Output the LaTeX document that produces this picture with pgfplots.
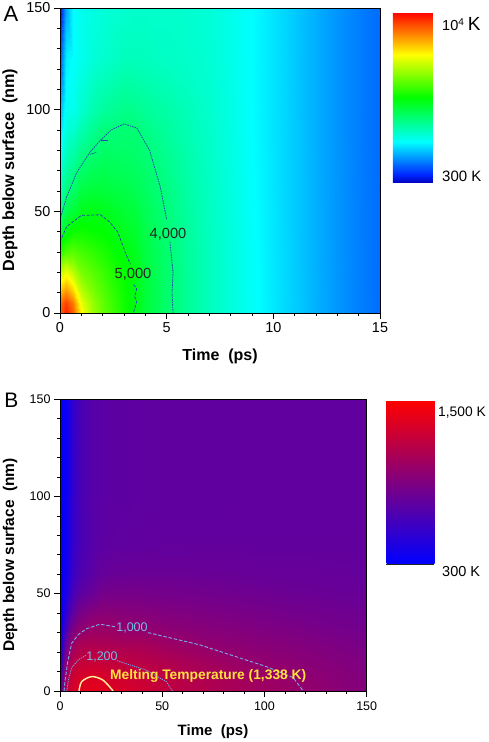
\documentclass[border=0pt]{standalone}
\usepackage{fontspec}
\setmainfont{Liberation Sans}
\usepackage{pgfplots}
\pgfplotsset{compat=1.18}
\definecolor{contA}{RGB}{35,75,170}
\definecolor{contB}{RGB}{120,170,235}
\definecolor{lblB}{RGB}{115,190,235}
\definecolor{meltc}{RGB}{255,238,150}
\definecolor{melttxt}{RGB}{255,225,60}
\newcommand{\fs}[1]{\fontsize{#1}{#1}\selectfont}
\pgfplotsset{
  panel/.style={scale only axis,axis on top,enlargelimits=false,
    tick align=outside,xtick pos=bottom,ytick pos=left,
    major tick length=6pt,minor tick length=3.2pt,
    tick style={black,line width=0.5pt},axis line style={line width=0.6pt},
    /pgf/number format/assume math mode=true,
    ymin=0,ymax=150,ytick={0,50,100,150},minor ytick={10,20,...,140}},
  heat/.style={surf,shader=interp,draw=none,point meta=explicit,mesh/ordering=y varies},
}
\begin{document}
\begin{tikzpicture}[x=1pt,y=1pt]
\path[use as bounding box] (0,0) rectangle (488,742);
% ---------- Panel A
\begin{axis}[panel,at={(60pt,429pt)},anchor=south west,width=320pt,height=305pt,
  xmin=0,xmax=15,xtick={0,5,10,15},minor xtick={1,2,3,4,6,7,8,9,11,12,13,14},
  ticklabel style={font=\fs{14.4}},
  colormap={rbA}{rgb255(0)=(0,0,190) rgb255(5)=(0,40,255) rgb255(24)=(0,255,255) rgb255(50)=(0,255,0) rgb255(75)=(255,255,0) rgb255(100)=(255,0,0)},
  point meta min=300,point meta max=10000,
  colorbar,colorbar/width=40pt,
  colorbar style={at={(parent axis.north east)},anchor=north west,xshift=4.4pt,yshift=-4pt,
    scale only axis,height=171pt,ytick=\empty,axis line style={draw=none},axis on top=false}]
\addplot[heat,mesh/rows=13,mesh/cols=20] table[x=t,y=z,meta=T,row sep=\\]{
t z T\\
0 0 9000\\0 5 8900\\0 10 8300\\0 20 6900\\0 30 5500\\0 40 4500\\0 50 3800\\0 60 3300\\0 75 2800\\0 90 2300\\0 100 2000\\0 125 1200\\0 150 500\\
0.3 0 9700\\0.3 5 9400\\0.3 10 8700\\0.3 20 7400\\0.3 30 5900\\0.3 40 5000\\0.3 50 4400\\0.3 60 3950\\0.3 75 3400\\0.3 90 3000\\0.3 100 2800\\0.3 125 2500\\0.3 150 1900\\
0.6 0 9100\\0.6 5 8800\\0.6 10 8100\\0.6 20 6900\\0.6 30 6000\\0.6 40 5300\\0.6 50 4600\\0.6 60 4150\\0.6 75 3600\\0.6 90 3100\\0.6 100 2800\\0.6 125 2650\\0.6 150 2620\\
1 0 7650\\1 5 7400\\1 10 7000\\1 20 6300\\1 30 5800\\1 40 5300\\1 50 4900\\1 60 4500\\1 75 3950\\1 90 3400\\1 100 3100\\1 125 2800\\1 150 2780\\
1.5 0 6700\\1.5 5 6600\\1.5 10 6400\\1.5 20 6000\\1.5 30 5600\\1.5 40 5200\\1.5 50 4950\\1.5 60 4600\\1.5 75 4150\\1.5 90 3700\\1.5 100 3400\\1.5 125 3000\\1.5 150 2900\\
2 0 6100\\2 5 6050\\2 10 5950\\2 20 5700\\2 30 5400\\2 40 5150\\2 50 4900\\2 60 4600\\2 75 4250\\2 90 3950\\2 100 3600\\2 125 3100\\2 150 3000\\
3 0 5300\\3 5 5280\\3 10 5250\\3 20 5200\\3 30 5050\\3 40 4850\\3 50 4650\\3 60 4450\\3 75 4200\\3 90 4020\\3 100 3800\\3 125 3300\\3 150 3100\\
3.5 0 4990\\3.5 5 5010\\3.5 10 5000\\3.5 20 4950\\3.5 30 4850\\3.5 40 4700\\3.5 50 4550\\3.5 60 4350\\3.5 75 4150\\3.5 90 4000\\3.5 100 3750\\3.5 125 3300\\3.5 150 3150\\
4 0 4600\\4 5 4600\\4 10 4600\\4 20 4560\\4 30 4500\\4 40 4420\\4 50 4320\\4 60 4200\\4 75 4050\\4 90 3850\\4 100 3650\\4 125 3280\\4 150 3150\\
5 0 4080\\5 5 4080\\5 10 4080\\5 20 4070\\5 30 4050\\5 40 4020\\5 50 3950\\5 60 3880\\5 75 3750\\5 90 3600\\5 100 3500\\5 125 3200\\5 150 3150\\
6 0 3650\\6 5 3650\\6 10 3650\\6 20 3640\\6 30 3620\\6 40 3600\\6 50 3570\\6 60 3530\\6 75 3460\\6 90 3380\\6 100 3320\\6 125 3150\\6 150 3100\\
7 0 3300\\7 5 3300\\7 10 3300\\7 20 3290\\7 30 3280\\7 40 3270\\7 50 3250\\7 60 3230\\7 75 3200\\7 90 3160\\7 100 3130\\7 125 3060\\7 150 3020\\
8 0 2980\\8 5 2980\\8 10 2980\\8 20 2975\\8 30 2970\\8 40 2960\\8 50 2950\\8 60 2940\\8 75 2920\\8 90 2900\\8 100 2880\\8 125 2850\\8 150 2830\\
9 0 2700\\9 5 2700\\9 10 2700\\9 20 2690\\9 30 2680\\9 40 2670\\9 50 2660\\9 60 2650\\9 75 2640\\9 90 2630\\9 100 2625\\9 125 2620\\9 150 2620\\
10 0 2440\\10 5 2440\\10 10 2440\\10 20 2435\\10 30 2430\\10 40 2425\\10 50 2420\\10 60 2415\\10 75 2410\\10 90 2405\\10 100 2400\\10 125 2400\\10 150 2400\\
11 0 2200\\11 5 2200\\11 10 2200\\11 20 2195\\11 30 2190\\11 40 2185\\11 50 2180\\11 60 2180\\11 75 2175\\11 90 2175\\11 100 2170\\11 125 2170\\11 150 2170\\
12 0 1960\\12 5 1960\\12 10 1960\\12 20 1955\\12 30 1955\\12 40 1950\\12 50 1950\\12 60 1945\\12 75 1945\\12 90 1940\\12 100 1940\\12 125 1940\\12 150 1940\\
13 0 1740\\13 5 1740\\13 10 1740\\13 20 1735\\13 30 1735\\13 40 1730\\13 50 1730\\13 60 1725\\13 75 1725\\13 90 1720\\13 100 1720\\13 125 1720\\13 150 1720\\
14 0 1540\\14 5 1540\\14 10 1540\\14 20 1535\\14 30 1535\\14 40 1530\\14 50 1530\\14 60 1525\\14 75 1525\\14 90 1520\\14 100 1520\\14 125 1520\\14 150 1520\\
15 0 1380\\15 5 1380\\15 10 1380\\15 20 1375\\15 30 1375\\15 40 1370\\15 50 1370\\15 60 1365\\15 75 1365\\15 90 1360\\15 100 1360\\15 125 1360\\15 150 1360\\
};
% 4,000 contour
\addplot[contA,line width=0.8pt,dash pattern=on 1.6pt off 0.9pt] coordinates {(0,46)(0.31,57)(0.78,69)(1.4,79)(1.9,85)(2.4,90)(3,93)(3.6,91)(4.2,80)(4.7,62)(5.0,46)};
\addplot[contA,line width=0.8pt,dash pattern=on 1.6pt off 0.9pt] coordinates {(5.15,35)(5.3,20)(5.25,10)(5.3,0)};
\addplot[contA,line width=0.5pt] coordinates {(1.4,78)(1.7,79)};
\addplot[contA,line width=0.5pt] coordinates {(1.9,85)(2.25,85)};
% 5,000 contour
\addplot[contA,line width=0.8pt,dash pattern=on 3pt off 1.5pt] coordinates {(0,35)(0.31,42.5)(1,48)(1.9,48.3)(2.3,45)(2.7,40)(3.1,28.7)(3.3,24)};
\addplot[contA,line width=0.8pt,dash pattern=on 3pt off 1.5pt] coordinates {(3.45,14)(3.6,12)(3.5,8)(3.6,5.7)(3.44,0)};
\end{axis}
% ---------- Panel B
\begin{axis}[panel,at={(60pt,51pt)},anchor=south west,width=306.7pt,height=292pt,
  xmin=0,xmax=150,xtick={0,50,100,150},minor xtick={10,20,30,40,60,70,80,90,110,120,130,140},
  ticklabel style={font=\fs{12.5}},xticklabel style={yshift=-1.5pt},
  colormap={rbB}{rgb255(0)=(0,0,255) rgb255(100)=(255,0,0)},
  point meta min=300,point meta max=1500,
  colorbar,colorbar/width=48pt,
  colorbar style={at={(parent axis.north east)},anchor=north west,xshift=11.3pt,yshift=-1.7pt,
    scale only axis,height=163pt,ytick=\empty,axis line style={draw=none},axis on top=false}]
\addplot[heat,mesh/rows=15,mesh/cols=21] table[x=t,y=z,meta=T,row sep=\\]{
t z T\\
0 0 600\\0 5 520\\0 10 450\\0 15 400\\0 20 370\\0 25 340\\0 30 320\\0 35 310\\0 40 305\\0 50 300\\0 60 300\\0 75 300\\0 100 300\\0 125 300\\0 150 300\\
1 0 850\\1 5 780\\1 10 700\\1 15 620\\1 20 550\\1 25 480\\1 30 430\\1 35 390\\1 40 360\\1 50 330\\1 60 315\\1 75 310\\1 100 310\\1 125 310\\1 150 310\\
2 0 1000\\2 5 960\\2 10 900\\2 15 820\\2 20 720\\2 25 640\\2 30 560\\2 35 490\\2 40 440\\2 50 380\\2 60 350\\2 75 335\\2 100 330\\2 125 330\\2 150 330\\
3 0 1170\\3 5 1100\\3 10 1030\\3 15 950\\3 20 860\\3 25 770\\3 30 680\\3 35 590\\3 40 530\\3 50 450\\3 60 400\\3 75 375\\3 100 365\\3 125 360\\3 150 360\\
5 0 1270\\5 5 1240\\5 10 1180\\5 15 1110\\5 20 1030\\5 25 940\\5 30 850\\5 35 760\\5 40 680\\5 50 560\\5 60 500\\5 75 470\\5 100 460\\5 125 460\\5 150 460\\
7 0 1320\\7 5 1290\\7 10 1240\\7 15 1180\\7 20 1100\\7 25 1030\\7 30 950\\7 35 860\\7 40 780\\7 50 660\\7 60 590\\7 75 560\\7 100 550\\7 125 550\\7 150 550\\
10 0 1345\\10 5 1335\\10 10 1280\\10 15 1220\\10 20 1150\\10 25 1080\\10 30 1010\\10 35 930\\10 40 860\\10 50 740\\10 60 670\\10 75 640\\10 100 640\\10 125 640\\10 150 640\\
15 0 1372\\15 5 1347\\15 10 1300\\15 15 1240\\15 20 1175\\15 25 1105\\15 30 1040\\15 35 985\\15 40 920\\15 50 790\\15 60 725\\15 75 700\\15 100 700\\15 125 700\\15 150 700\\
20 0 1355\\20 5 1342\\20 10 1290\\20 15 1225\\20 20 1160\\20 25 1095\\20 30 1040\\20 35 995\\20 40 950\\20 50 850\\20 60 780\\20 75 735\\20 100 725\\20 125 725\\20 150 725\\
25 0 1342\\25 5 1300\\25 10 1262\\25 15 1205\\25 20 1150\\25 25 1090\\25 30 1040\\25 35 990\\25 40 945\\25 50 860\\25 60 790\\25 75 745\\25 100 735\\25 125 735\\25 150 735\\
30 0 1320\\30 5 1290\\30 10 1250\\30 15 1197\\30 20 1145\\30 25 1070\\30 30 1020\\30 35 975\\30 40 935\\30 50 860\\30 60 795\\30 75 750\\30 100 740\\30 125 740\\30 150 740\\
40 0 1265\\40 5 1250\\40 10 1210\\40 15 1170\\40 20 1125\\40 25 1070\\40 30 1005\\40 35 965\\40 40 925\\40 50 860\\40 60 800\\40 75 755\\40 100 745\\40 125 745\\40 150 745\\
50 0 1215\\50 5 1205\\50 10 1175\\50 15 1135\\50 20 1085\\50 25 1030\\50 30 985\\50 35 945\\50 40 910\\50 50 850\\50 60 800\\50 75 760\\50 100 750\\50 125 750\\50 150 750\\
60 0 1170\\60 5 1160\\60 10 1135\\60 15 1100\\60 20 1050\\60 25 1010\\60 30 965\\60 35 930\\60 40 900\\60 50 845\\60 60 800\\60 75 760\\60 100 750\\60 125 750\\60 150 750\\
75 0 1120\\75 5 1110\\75 10 1085\\75 15 1055\\75 20 1010\\75 25 970\\75 30 940\\75 35 910\\75 40 885\\75 50 835\\75 60 795\\75 75 760\\75 100 750\\75 125 750\\75 150 750\\
90 0 1080\\90 5 1065\\90 10 1040\\90 15 1010\\90 20 975\\90 25 945\\90 30 920\\90 35 895\\90 40 870\\90 50 825\\90 60 790\\90 75 760\\90 100 755\\90 125 755\\90 150 755\\
100 0 1050\\100 5 1035\\100 10 1015\\100 15 985\\100 20 955\\100 25 930\\100 30 905\\100 35 880\\100 40 860\\100 50 815\\100 60 785\\100 75 760\\100 100 755\\100 125 755\\100 150 755\\
110 0 1025\\110 5 1008\\110 10 995\\110 15 970\\110 20 945\\110 25 920\\110 30 895\\110 35 872\\110 40 850\\110 50 810\\110 60 780\\110 75 760\\110 100 755\\110 125 755\\110 150 755\\
120 0 1000\\120 5 985\\120 10 965\\120 15 945\\120 20 925\\120 25 905\\120 30 880\\120 35 860\\120 40 840\\120 50 805\\120 60 780\\120 75 760\\120 100 755\\120 125 755\\120 150 755\\
135 0 950\\135 5 945\\135 10 935\\135 15 920\\135 20 900\\135 25 880\\135 30 860\\135 35 840\\135 40 825\\135 50 795\\135 60 775\\135 75 760\\135 100 755\\135 125 755\\135 150 755\\
150 0 915\\150 5 910\\150 10 900\\150 15 890\\150 20 875\\150 25 860\\150 30 845\\150 35 830\\150 40 815\\150 50 790\\150 60 770\\150 75 760\\150 100 760\\150 125 760\\150 150 760\\
};
% 1,000 contour
\addplot[contB,line width=0.9pt,dash pattern=on 3.5pt off 1.8pt] coordinates {(2,0)(2.4,4.8)(3.8,15)(5.7,24.5)(9,29)(13,32)(19.5,34.3)(27,33)};
\addplot[contB,line width=0.9pt,dash pattern=on 3.5pt off 1.8pt] coordinates {(43,30)(68.4,23.7)(101,12.5)(114,6.9)(119,0)};
% 1,200 contour
\addplot[contB,line width=0.8pt,dash pattern=on 1.2pt off 1pt] coordinates {(3.3,0)(4.2,6)(5.7,12)(9,16)(13,18.5)};
\addplot[contB,line width=0.8pt,dash pattern=on 1.2pt off 1pt] coordinates {(28,15.5)(42,10.8)(52,4.8)(55,0)};
% melting contour
\addplot[meltc,line width=1.5pt,smooth] coordinates {(9.3,0)(10.6,4.8)(15.5,7.4)(21,5.6)(26,0)};
\end{axis}
% ---------- labels
\node[font=\fs{22}] at (11,728.5) {A};
\node[font=\fs{21}] at (11.5,341.5) {B};
\node[font=\fs{16.2}\bfseries,rotate=90] at (10,572) {Depth below surface\ \ (nm)};
\node[font=\fs{16}\bfseries] at (220,386) {Time\ \ (ps)};
\node[font=\fs{15.5}\bfseries,rotate=90] at (10,187) {Depth below surface\ \ (nm)};
\node[font=\fs{15}\bfseries] at (213,10) {Time\ \ (ps)};
\node[font=\fs{14.7},text=black!85] at (168,508) {4,000};
\node[font=\fs{14.7},text=black!85] at (133,468) {5,000};
\node[font=\fs{12.5},text=lblB] at (132,114) {1,000};
\node[font=\fs{12.5},text=lblB] at (102,85) {1,200};
\node[font=\fs{13.8}\bfseries,text=melttxt,anchor=west,inner sep=0pt] at (110,66) {Melting Temperature (1,338 K)};
\node[anchor=west,inner sep=0pt] at (442,718) {\fs{14.5}10\raisebox{5pt}{\fs{10}4} \fs{19}K};
\node[anchor=west,inner sep=0pt,font=\fs{15}] at (442,566) {300 K};
\node[anchor=west,inner sep=0pt,font=\fs{13.8}] at (438,329) {1,500 K};
\node[anchor=west,inner sep=0pt,font=\fs{14.5}] at (442,170) {300 K};
\draw[line width=0.8pt,black!85] (386,178) -- (434,178);
\end{tikzpicture}
\end{document}
